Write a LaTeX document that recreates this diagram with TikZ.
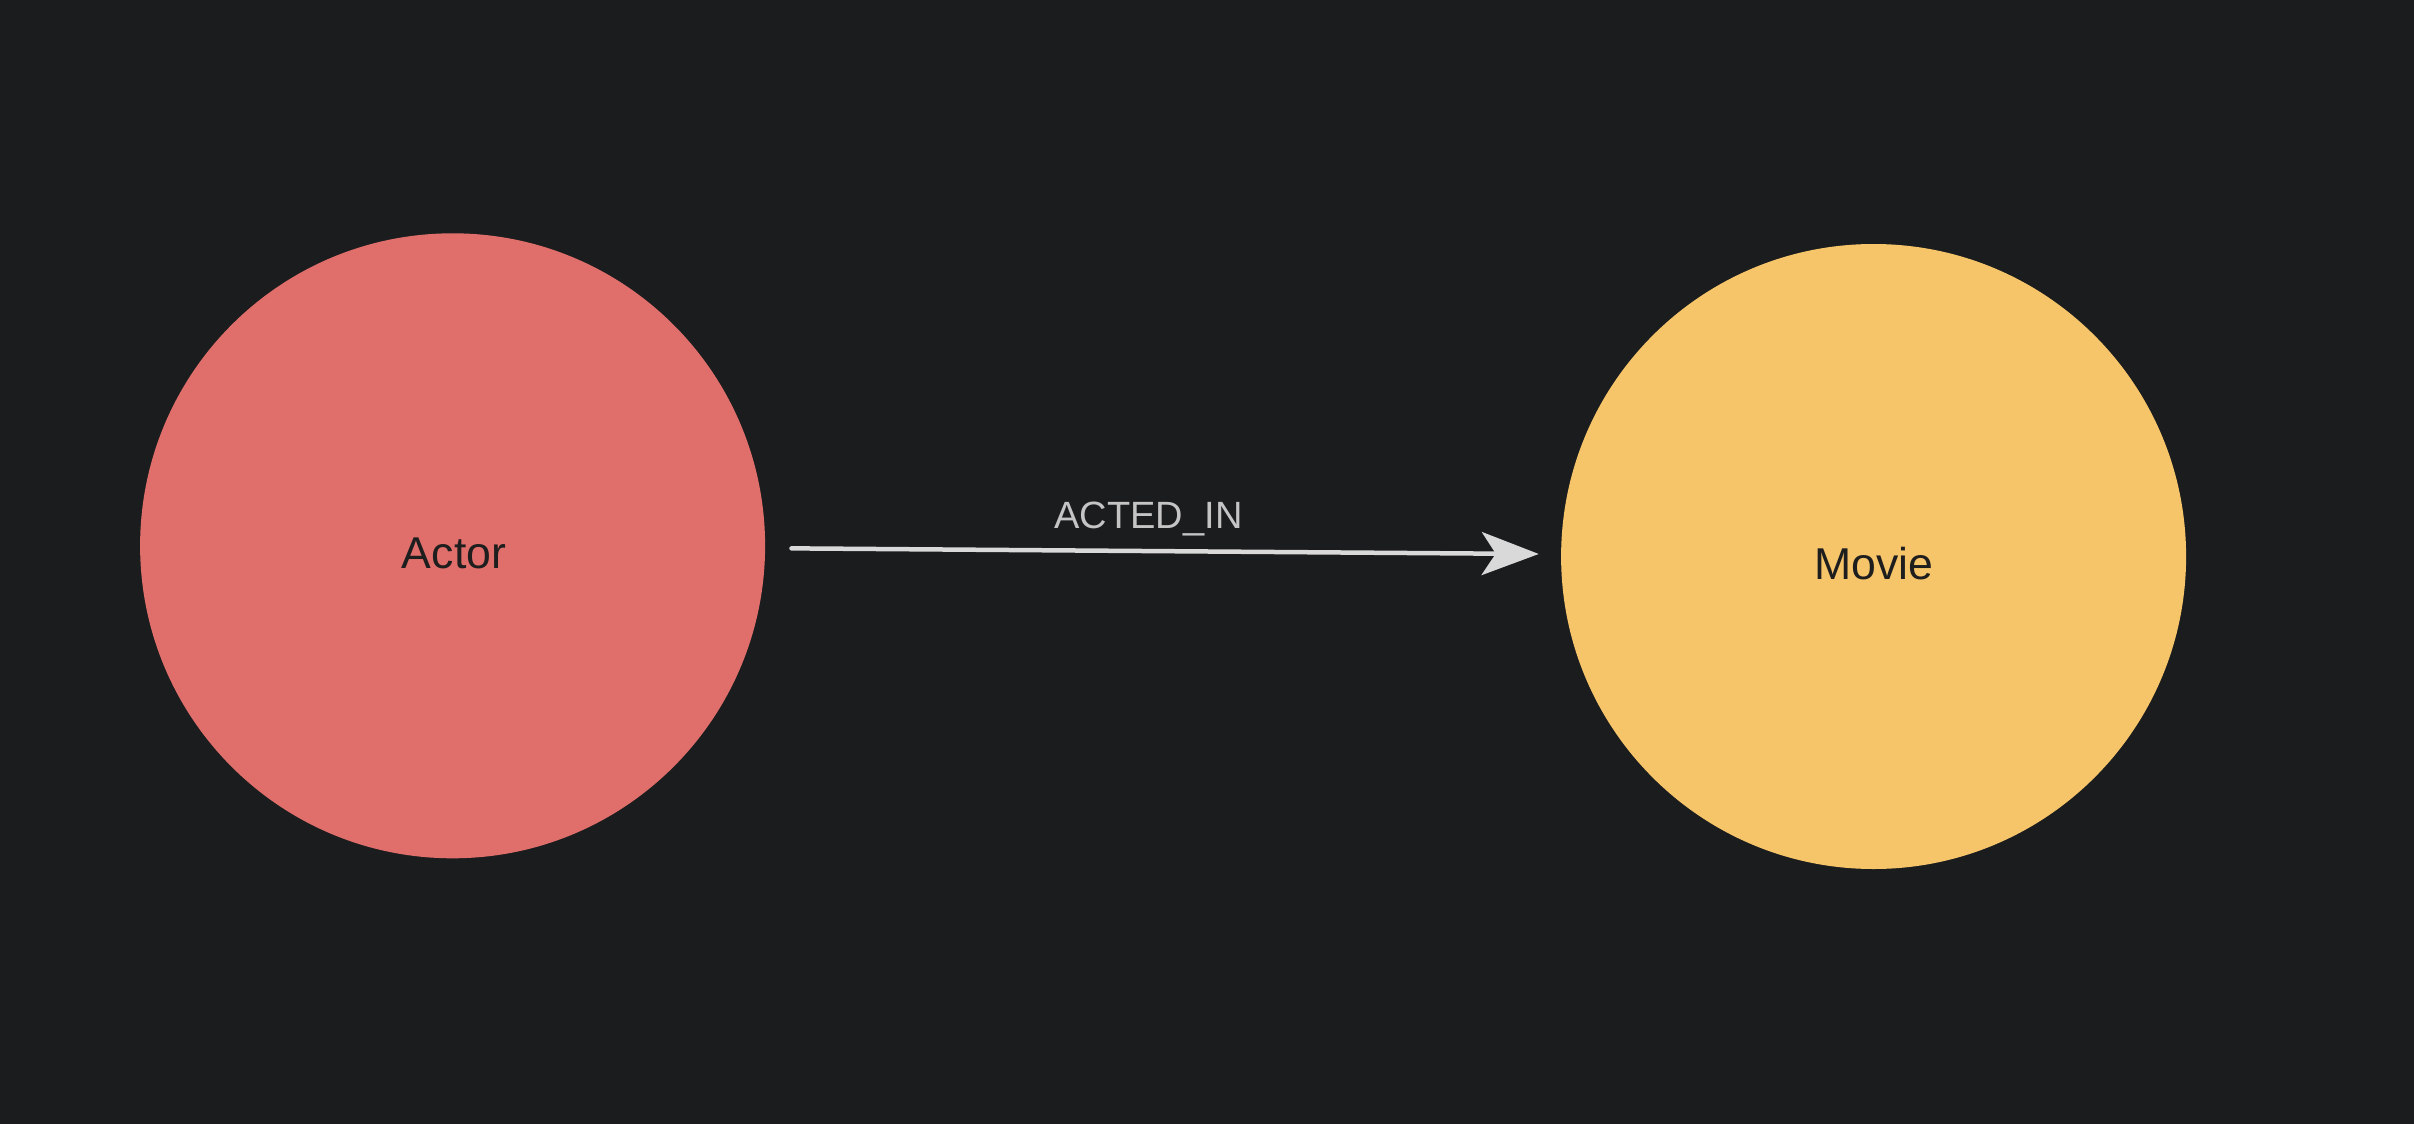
\documentclass[tikz,border=0pt]{standalone}
\usepackage{fontspec}
\setmainfont{Liberation Sans}
\usetikzlibrary{arrows.meta}
\definecolor{bgc}{HTML}{1B1C1E}
\definecolor{actorc}{HTML}{E06F6B}
\definecolor{moviec}{HTML}{F6C56A}
\definecolor{edgec}{HTML}{D9D9D9}
\definecolor{elabc}{HTML}{C4C4C4}
\definecolor{ntextc}{HTML}{1E1E1E}
\tikzset{
  gnode/.style={circle, draw=none, inner sep=0pt, minimum size=312.5pt},
  ntext/.style={text=ntextc, font=\fontsize{22.3}{26}\selectfont, inner sep=0pt},
  etext/.style={text=elabc, font=\fontsize{19}{23}\selectfont, inner sep=0pt},
  rel/.style={draw=edgec, line width=2.25pt, line cap=round,
    -{Stealth[length=28.5pt, width=21.5pt, inset=7pt]},
    shorten <=13pt, shorten >=11pt}
}
\begin{document}
\begin{tikzpicture}[x=0.5pt, y=-0.5pt]
\fill[bgc] (0,0) rectangle (2414,1124);
\useasboundingbox (0,0) rectangle (2414,1124);
\node[gnode, fill=actorc] (actor) at (452.6,545.8) {};
\node[gnode, fill=moviec] (movie) at (1873.6,556.5) {};
\node[ntext] (actorlbl) at (454,553) {Actor};
\node[ntext] (movielbl) at (1874,563.5) {Movie};
\draw[rel] (actor) -- (movie);
\node[etext] (rellbl) at (1148.5,518.8) {ACTED\_IN};
\end{tikzpicture}
\end{document}
